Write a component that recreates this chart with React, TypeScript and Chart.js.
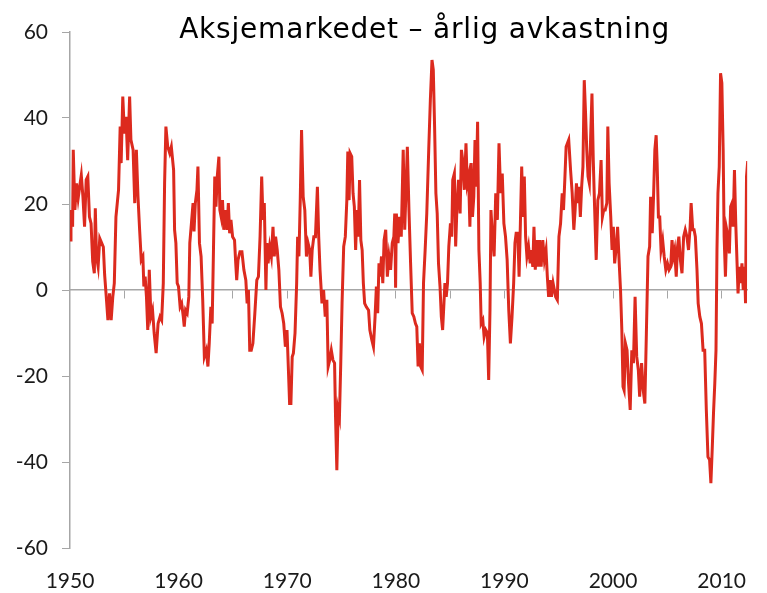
import React, { useEffect, useRef } from "react";
import { Chart, registerables } from "chart.js";

Chart.register(...registerables);

const TITLE = "Aksjemarkedet – årlig avkastning";
const X_MIN = 1950;
const X_MAX = 2012.35;
const Y_MIN = -60;
const Y_MAX = 60;
const Y_STEP = 20;
const X_LABELS = [1950, 1960, 1970, 1980, 1990, 2000, 2010];
const X_MINOR_TICKS = [1955, 1960, 1965, 1970, 1975, 1980, 1985, 1990, 1995, 2000, 2005, 2010];

// [year, annual return %]
const r1950s: [number, number][] = [
  [1950.0, 11.6], [1950.09, 18.6], [1950.24, 14.7], [1950.3, 32.6], [1950.45, 18.6], [1950.6, 24.8],
  [1950.75, 21.3], [1950.89, 24], [1951.04, 26.7], [1951.19, 21.7], [1951.34, 14.7], [1951.49, 25.6],
  [1951.64, 26.4], [1951.79, 17], [1951.94, 15.5], [1952.09, 6.6], [1952.24, 3.9], [1952.33, 19],
  [1952.44, 7.8], [1952.59, 5.4], [1952.74, 12], [1952.92, 10.9], [1953.07, 10], [1953.19, 3.5],
  [1953.34, -1.6], [1953.49, -7], [1953.64, -0.8], [1953.79, -7], [1953.94, -1.6], [1954.08, 1.6],
  [1954.23, 17], [1954.47, 23.3], [1954.62, 38], [1954.71, 29.5], [1954.86, 45], [1955.01, 36.4],
  [1955.16, 40.3], [1955.31, 30.2], [1955.49, 45], [1955.61, 34.9], [1955.81, 32.6], [1955.96, 20.2],
  [1956.11, 32.6], [1956.26, 21.7], [1956.41, 14], [1956.56, 7], [1956.71, 7.8], [1956.8, 0.8],
  [1956.92, 3.1], [1957.04, -1.6], [1957.16, -9.3], [1957.3, 4.7], [1957.45, -6.2], [1957.6, -4.7],
  [1957.75, -10], [1957.93, -14.7], [1958.11, -7.8], [1958.29, -6.2], [1958.44, -7], [1958.59, 1.6],
  [1958.71, 24.8], [1958.83, 38], [1959.0, 33.3], [1959.18, 31.8], [1959.33, 33.3], [1959.54, 27.9],
  [1959.63, 14], [1959.75, 10.9], [1959.87, 1.6], [1959.99, 0.8],
];

const r1960s: [number, number][] = [
  [1960.14, -3.9], [1960.28, -3.1], [1960.43, -6.2], [1960.52, -8.5], [1960.64, -4.7], [1960.79, -5.4],
  [1960.94, -1.6], [1961.03, 10.9], [1961.18, 15.5], [1961.33, 20.2], [1961.42, 13.6], [1961.54, 20.2],
  [1961.69, 23.3], [1961.78, 28.7], [1961.92, 10.9], [1962.07, 7.8], [1962.22, -2.3], [1962.37, -15.5],
  [1962.55, -14], [1962.7, -17.8], [1962.82, -12.4], [1962.97, -3.9], [1963.09, -7.8], [1963.21, 9.3],
  [1963.33, 26.4], [1963.44, 19.4], [1963.56, 26.4], [1963.71, 31], [1963.8, 18.6], [1963.92, 17],
  [1964.04, 20.9], [1964.16, 14], [1964.31, 18.6], [1964.46, 14], [1964.58, 20.2], [1964.7, 13.2],
  [1964.82, 16.3], [1964.97, 12.4], [1965.15, 11.6], [1965.26, 6.2], [1965.35, 2.3], [1965.47, 7],
  [1965.65, 8.9], [1965.83, 8.9], [1966.01, 4.7], [1966.19, 2.3], [1966.31, -3.1], [1966.43, 0],
  [1966.55, -14], [1966.69, -14], [1966.84, -12.4], [1967.02, -5.4], [1967.2, 2.3], [1967.35, 3.1],
  [1967.5, 12.4], [1967.65, 26.4], [1967.77, 16.3], [1967.89, 20.2], [1968.04, 0], [1968.13, 10.9],
  [1968.24, 6.2], [1968.39, 10.1], [1968.54, 7.8], [1968.69, 14.7], [1968.81, 7.8], [1968.93, 12.4],
  [1969.08, 9.3], [1969.23, 4.7], [1969.38, -3.9], [1969.53, -5.4], [1969.68, -7.8], [1969.83, -13.2],
  [1969.98, -9.3],
];

const r1970s: [number, number][] = [
  [1970.1, -17.8], [1970.22, -26.4], [1970.34, -26.4], [1970.46, -15.5], [1970.57, -14.7], [1970.72, -10],
  [1970.87, 1.6], [1970.96, 12.4], [1971.08, 7.8], [1971.2, 20.9], [1971.32, 37.2], [1971.47, 21.7],
  [1971.62, 18.6], [1971.77, 7.8], [1971.92, 10.9], [1972.07, 9.3], [1972.18, 3.1], [1972.3, 9.3],
  [1972.45, 12.4], [1972.6, 12.4], [1972.78, 24], [1972.9, 12.4], [1973.02, 4.7], [1973.2, -3.1],
  [1973.35, 0], [1973.5, -6.2], [1973.65, -2.3], [1973.77, -17.8], [1973.91, -16.3], [1974.06, -14],
  [1974.21, -16.3], [1974.36, -17], [1974.45, -29.5], [1974.57, -41.9], [1974.69, -27.9], [1974.81, -29.5],
  [1974.93, -17], [1975.05, -3.1], [1975.2, 10.1], [1975.35, 12.4], [1975.49, 20.9], [1975.58, 32.2],
  [1975.7, 20.9], [1975.79, 31.8], [1975.94, 31], [1976.06, 22.5], [1976.18, 19.4], [1976.3, 9.3],
  [1976.42, 18.6], [1976.54, 12.4], [1976.66, 25.6], [1976.78, 11.6], [1976.9, 9.3], [1977.01, 1.6],
  [1977.13, -3.1], [1977.28, -3.9], [1977.49, -4.7], [1977.61, -9.3], [1977.79, -11.6], [1977.94, -13.2],
  [1978.09, -6.2], [1978.21, 0.8], [1978.33, -5.4], [1978.45, 6.2], [1978.56, 3.1], [1978.68, 7.8],
  [1978.8, 1.6], [1978.92, 11.6], [1979.07, 14], [1979.22, 3.1], [1979.37, 7.8], [1979.52, 4.7],
  [1979.67, 10.9], [1979.82, 12.4], [1979.9, 17.8], [1979.98, 0.5],
];

const r1980s: [number, number][] = [
  [1980.05, 17.8], [1980.2, 10.9], [1980.35, 17], [1980.5, 12.4], [1980.68, 32.6], [1980.82, 14],
  [1980.94, 23.3], [1981.06, 33.3], [1981.21, 18.6], [1981.36, 6.2], [1981.51, -5.4], [1981.66, -6.2],
  [1981.81, -7.8], [1981.93, -8.5], [1982.05, -17.8], [1982.17, -12.4], [1982.29, -17.8], [1982.43, -18.6],
  [1982.55, 1.6], [1982.7, 9.3], [1982.85, 17.8], [1983.03, 32.6], [1983.18, 44.2], [1983.33, 53.5],
  [1983.45, 51.2], [1983.57, 38], [1983.69, 22.5], [1983.81, 17.8], [1983.93, 6.2], [1984.07, 0.8],
  [1984.19, -6.2], [1984.31, -9.3], [1984.43, -3.1], [1984.52, 1.6], [1984.64, -1.6], [1984.76, 1.6],
  [1984.88, 10.1], [1985.03, 15.5], [1985.15, 12.4], [1985.24, 25.6], [1985.39, 27.1], [1985.51, 10.1],
  [1985.62, 18.6], [1985.77, 25.6], [1985.92, 17.8], [1986.04, 32.6], [1986.16, 30.2], [1986.31, 23.3],
  [1986.46, 34.1], [1986.58, 24.8], [1986.7, 26.4], [1986.82, 14.7], [1986.94, 29.5], [1987.06, 17],
  [1987.18, 21.7], [1987.29, 34.9], [1987.41, 24], [1987.53, 39.1], [1987.65, 9.3], [1987.77, 1.6],
  [1987.86, -7.8], [1988.01, -7], [1988.13, -10.9], [1988.28, -9.3], [1988.43, -10], [1988.55, -20.9],
  [1988.67, -4.7], [1988.76, 18.6], [1988.9, 12.4], [1989.05, 7.8], [1989.2, 22.5], [1989.35, 16.3],
  [1989.5, 34.1], [1989.65, 22.5], [1989.8, 27.1], [1989.95, 15.5],
];

const r1990s: [number, number][] = [
  [1990.1, 12.4], [1990.25, 7], [1990.4, -4.7], [1990.55, -12.4], [1990.7, -6.2], [1990.85, 1.6],
  [1990.97, 10.9], [1991.08, 13.2], [1991.23, 13.2], [1991.35, 3.1], [1991.47, 15.5], [1991.59, 28.7],
  [1991.71, 17], [1991.83, 26.4], [1991.95, 12.4], [1992.07, 7.8], [1992.22, 10.1], [1992.37, 6.2],
  [1992.49, 9.3], [1992.61, 5.4], [1992.72, 14.7], [1992.84, 4.7], [1992.99, 11.6], [1993.11, 5.4],
  [1993.23, 11.6], [1993.38, 5.4], [1993.53, 11.6], [1993.68, 7], [1993.83, 9.3], [1993.95, 3.1],
  [1994.07, -1.6], [1994.22, 2.3], [1994.33, -1.6], [1994.48, 1.6], [1994.6, 0], [1994.72, -1.6],
  [1994.87, -2.3], [1995.02, 12.4], [1995.17, 15.5], [1995.32, 22.5], [1995.44, 18.6], [1995.56, 25.6],
  [1995.68, 33.3], [1995.8, 34.1], [1995.92, 34.9], [1996.09, 27.9], [1996.24, 22.5], [1996.39, 14],
  [1996.51, 18.6], [1996.63, 24.8], [1996.75, 20.2], [1996.87, 24], [1996.99, 17], [1997.11, 24],
  [1997.23, 28.7], [1997.35, 48.8], [1997.47, 41.1], [1997.58, 32.6], [1997.7, 26.4], [1997.82, 24.8],
  [1997.94, 35.7], [1998.06, 45.7], [1998.18, 30.2], [1998.3, 19.4], [1998.45, 7], [1998.6, 20.9],
  [1998.75, 22.5], [1998.9, 30.2], [1999.02, 17], [1999.14, 18.6], [1999.28, 18.6], [1999.43, 20.2],
  [1999.52, 38], [1999.64, 24.8], [1999.79, 17], [1999.91, 9.3],
];

const r2000s: [number, number][] = [
  [2000.03, 14.7], [2000.15, 6.2], [2000.3, 10.1], [2000.42, 14.7], [2000.57, 6.2], [2000.69, 0],
  [2000.81, -9.3], [2000.92, -22.5], [2001.02, -23.3], [2001.14, -12.4], [2001.29, -14], [2001.43, -21.7],
  [2001.58, -27.9], [2001.73, -14], [2001.88, -17], [2002.03, -1.6], [2002.18, -15.5], [2002.33, -18.6],
  [2002.45, -24.8], [2002.63, -17], [2002.78, -23.3], [2002.93, -26.4], [2003.07, -10], [2003.22, 7.8],
  [2003.37, 10.1], [2003.46, 21.7], [2003.61, 13.2], [2003.73, 21.7], [2003.85, 32.6], [2003.97, 36],
  [2004.06, 29.5], [2004.18, 17], [2004.3, 17], [2004.42, 9.3], [2004.57, 11.6], [2004.71, 7.8],
  [2004.86, 4.7], [2005.01, 6.2], [2005.16, 4.7], [2005.31, 5.4], [2005.43, 11.6], [2005.55, 7.8],
  [2005.67, 9.3], [2005.82, 3.1], [2005.94, 10.1], [2006.06, 12.4], [2006.2, 7], [2006.35, 3.9],
  [2006.5, 12.4], [2006.65, 14], [2006.8, 12.4], [2006.95, 9.3], [2007.1, 14.7], [2007.19, 20.2],
  [2007.34, 14], [2007.46, 14], [2007.58, 12.4], [2007.73, 4.7], [2007.84, -3.1], [2007.99, -6.2],
  [2008.14, -7.8], [2008.29, -14], [2008.44, -14], [2008.59, -27.9], [2008.74, -38.8], [2008.89, -39.5],
  [2009.01, -44.9], [2009.13, -37.2], [2009.25, -28.7], [2009.37, -21.7], [2009.48, -14], [2009.57, 9.3],
  [2009.66, 22.5], [2009.78, 28.7], [2009.9, 50.4],
];

const r2010s: [number, number][] = [
  [2010.02, 48.1], [2010.14, 32.6], [2010.23, 12.4], [2010.35, 3.1], [2010.47, 14], [2010.59, 12.4],
  [2010.71, 8.5], [2010.83, 19.4], [2010.95, 20.2], [2011.06, 14.7], [2011.18, 27.9], [2011.3, 15.5],
  [2011.42, 6.2], [2011.51, -0.8], [2011.63, 5.4], [2011.75, 1.6], [2011.87, 6.2], [2011.99, 0],
  [2012.11, 5.4], [2012.2, -3.1], [2012.29, 26.4], [2012.4, 30],
];

const AXIS_GRAY = "#a6a6a6";
const LINE_RED = "#dc2a1e";
const TEXT_COLOR = "#1a1a1a";
const TICK_FONT = { family: "Lato, 'Open Sans', sans-serif", size: 21 };

export default function App() {
  const ref = useRef<HTMLCanvasElement | null>(null);

  useEffect(() => {
    if (!ref.current) return;
    const series = [...r1950s, ...r1960s, ...r1970s, ...r1980s, ...r1990s, ...r2000s, ...r2010s].map(
      ([x, y]) => ({ x, y })
    );

    const titlePlugin = {
      id: "titleText",
      afterDraw(chart: any) {
        const { ctx, chartArea } = chart;
        ctx.save();
        ctx.font = "28px 'DejaVu Sans', Verdana, sans-serif";
        try {
          (ctx as any).letterSpacing = "0.8px";
        } catch (e) {}
        ctx.fillStyle = "#000";
        ctx.textAlign = "center";
        ctx.textBaseline = "alphabetic";
        ctx.fillText(TITLE, (chartArea.left + chartArea.right) / 2 + 16, chartArea.top + 6);
        ctx.restore();
      },
    };

    const chart = new Chart(ref.current, {
      type: "line",
      data: {
        datasets: [
          {
            data: series,
            borderColor: LINE_RED,
            backgroundColor: LINE_RED,
            borderWidth: 3,
            pointRadius: 0,
            tension: 0,
            fill: false,
          },
        ],
      },
      options: {
        animation: false,
        responsive: false,
        maintainAspectRatio: false,
        parsing: false as any,
        layout: { padding: { top: 32, right: 0, bottom: 0, left: 0 } },
        plugins: {
          legend: { display: false },
          tooltip: { enabled: false },
          title: { display: false },
        },
        scales: {
          x: {
            type: "linear",
            position: "bottom",
            min: X_MIN,
            max: X_MAX,
            grid: { display: false, drawTicks: false },
            border: { display: false },
            afterBuildTicks: (s: any) => {
              s.ticks = X_LABELS.map((v) => ({ value: v }));
            },
            ticks: {
              autoSkip: false,
              maxRotation: 0,
              padding: 21,
              color: TEXT_COLOR,
              font: TICK_FONT,
              callback: (v: any) => String(v),
            },
            afterFit: (s: any) => {
              s.height = 45;
            },
          },
          x2: {
            type: "linear",
            axis: "x",
            position: { y: 0 } as any,
            min: X_MIN,
            max: X_MAX,
            grid: {
              drawOnChartArea: false,
              drawTicks: true,
              tickLength: 8,
              color: AXIS_GRAY,
            },
            border: { display: true, color: AXIS_GRAY, width: 1.5 },
            afterBuildTicks: (s: any) => {
              s.ticks = X_MINOR_TICKS.map((v) => ({ value: v }));
            },
            ticks: { display: false, autoSkip: false },
          },
          y: {
            type: "linear",
            position: "left",
            min: Y_MIN,
            max: Y_MAX,
            grid: { drawOnChartArea: false, drawTicks: true, tickLength: 8, color: AXIS_GRAY },
            border: { display: true, color: AXIS_GRAY, width: 1.5 },
            ticks: { stepSize: Y_STEP, padding: 14, color: TEXT_COLOR, font: TICK_FONT },
            afterFit: (s: any) => {
              s.width = 70;
            },
          },
        },
      } as any,
      plugins: [titlePlugin],
    });
    return () => chart.destroy();
  }, []);

  return (
    <div style={{ position: "fixed", left: 0, top: 0, width: 767, height: 593, background: "#fff" }}>
      <canvas ref={ref} width={767} height={593} style={{ display: "block", width: 767, height: 593 }} />
    </div>
  );
}
